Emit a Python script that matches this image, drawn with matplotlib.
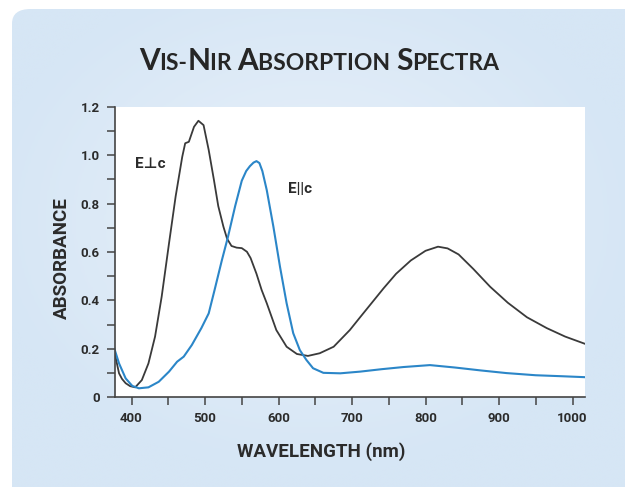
import numpy as np
import matplotlib
matplotlib.use('Agg')
import matplotlib.pyplot as plt
from matplotlib.patches import FancyBboxPatch
from matplotlib.colors import LinearSegmentedColormap

# E perpendicular c (black trace)
perp_nm = [376, 380, 383, 387, 392, 398, 405, 414, 423, 432, 441, 451, 460, 469, 473,
           478, 485, 491, 498, 505, 512, 518, 525, 530, 536, 543, 550, 557, 562, 570,
           577, 584, 597, 611, 625, 640, 656, 675, 697, 711, 727, 743, 760, 780, 800,
           817, 830, 845, 865, 888, 912, 938, 965, 990, 1017]
perp_abs = [0.20, 0.14, 0.098, 0.075, 0.057, 0.045, 0.040, 0.070, 0.139, 0.25, 0.415,
            0.636, 0.83, 0.994, 1.05, 1.056, 1.118, 1.143, 1.125, 1.022, 0.90, 0.79, 0.705,
            0.655, 0.625, 0.618, 0.616, 0.601, 0.575, 0.51, 0.443, 0.388, 0.277, 0.208,
            0.178, 0.17, 0.181, 0.208, 0.277, 0.33, 0.39, 0.45, 0.51, 0.565, 0.605, 0.622,
            0.615, 0.59, 0.53, 0.456, 0.39, 0.33, 0.285, 0.25, 0.22]

# E parallel c (blue trace)
par_nm = [376, 383, 392, 401, 410, 423, 437, 451, 462, 471, 482, 495, 505, 513, 523,
          531, 541, 550, 556, 561, 566, 570, 574, 578, 584, 593, 602, 611, 620, 629,
          638, 647, 661, 684, 711, 740, 770, 806, 840, 875, 910, 950, 985, 1017]
par_abs = [0.206, 0.139, 0.077, 0.046, 0.036, 0.040, 0.063, 0.105, 0.146, 0.167, 0.215,
           0.285, 0.346, 0.443, 0.567, 0.66, 0.79, 0.895, 0.935, 0.955, 0.97, 0.976, 0.968,
           0.935, 0.856, 0.705, 0.539, 0.388, 0.264, 0.194, 0.153, 0.119, 0.10, 0.098,
           0.105, 0.115, 0.124, 0.132, 0.122, 0.11, 0.099, 0.09, 0.086, 0.082]

x_ticks = [400, 500, 600, 700, 800, 900, 1000]
y_ticks = [0, 0.2, 0.4, 0.6, 0.8, 1.0, 1.2]
y_tick_labels = ['0', '0.2', '0.4', '0.6', '0.8', '1.0', '1.2']

text_color = '#2b2b2b'
cond = ['Roboto', 'DejaVu Sans']

fig = plt.figure(figsize=(6.25, 4.87), dpi=100)
fig.patch.set_facecolor('white')

# light blue panel, lighter in the middle, rounded top-left corner
bg = fig.add_axes([0, 0, 1, 1])
bg.set_axis_off()
bg.set_xlim(0, 1)
bg.set_ylim(0, 1)
gx, gy = np.meshgrid(np.linspace(0, 1, 200), np.linspace(0, 1, 200))
dist = np.sqrt(((gx - 0.5) / 0.7) ** 2 + ((gy - 0.55) / 0.7) ** 2)
cmap = LinearSegmentedColormap.from_list('panel', ['#e9f1fa', '#d6e6f5'])
img = bg.imshow(dist, cmap=cmap, extent=[0, 1, 0, 1], origin='lower',
                aspect='auto', vmin=0, vmax=0.75)
panel = FancyBboxPatch((12 / 625, -0.05), 1.1, 1.05 - 9 / 487,
                       boxstyle='round,pad=0,rounding_size=0.03',
                       transform=bg.transAxes, facecolor='none', edgecolor='none')
bg.add_patch(panel)
img.set_clip_path(panel)

ax = fig.add_axes([115 / 625, 1 - 397 / 487, 470 / 625, 290 / 487])
ax.set_facecolor('white')

ax.plot(perp_nm, perp_abs, color='#3a3a3a', lw=1.3)
ax.plot(par_nm, par_abs, color='#2b86c8', lw=1.5)

ax.set_xlim(377.5, 1017)
ax.set_ylim(0, 1.2)
for s in ['top', 'right']:
    ax.spines[s].set_visible(False)
for s in ['left', 'bottom']:
    ax.spines[s].set_color('#444444')
    ax.spines[s].set_linewidth(1.2)

ax.set_xticks(x_ticks)
ax.set_xticks([450, 550, 650, 750, 850, 950], minor=True)
ax.set_yticks(y_ticks)
ax.set_yticklabels(y_tick_labels)
ax.set_yticks([0.1, 0.3, 0.5, 0.7, 0.9, 1.1], minor=True)
ax.tick_params(which='both', direction='out', color='#444444', width=1.1,
               length=6, labelsize=9.5, labelcolor=text_color, pad=5)
for lab in ax.get_xticklabels() + ax.get_yticklabels():
    lab.set_family(cond)
    lab.set_weight('bold')

ax.text(425, 0.965, 'E⊥c', fontsize=11, fontweight='bold', family=cond,
        color=text_color, ha='center', va='center')
ax.text(629, 0.86, 'E||c', fontsize=11, fontweight='bold', family=cond,
        color=text_color, ha='center', va='center')

fig.text(62 / 625, 1 - 258 / 487, 'ABSORBANCE', rotation=90, fontsize=13.5,
         fontweight='bold', family=cond, color=text_color, ha='center', va='center')
fig.text(321 / 625, 1 - 452 / 487, 'WAVELENGTH (nm)', fontsize=13.5,
         fontweight='bold', family=cond, color=text_color, ha='center', va='center')

# small caps title, built piece by piece
parts = [('V', 21.5), ('IS-', 16.5), ('N', 21.5), ('IR ', 16.5), ('A', 21.5),
         ('BSORPTION ', 16.5), ('S', 21.5), ('PECTRA', 16.5)]
renderer = fig.canvas.get_renderer()
texts = []
x = 0.0
for s, size in parts:
    t = fig.text(x, 1 - 70 / 487, s, fontsize=size, family=['Lato', 'DejaVu Sans'],
                 fontweight='bold', color='#262626', ha='left', va='baseline')
    w = t.get_window_extent(renderer).width / fig.bbox.width
    texts.append((t, w))
    x += w
x0 = 319 / 625 - x / 2
for t, w in texts:
    t.set_x(t.get_position()[0] + x0)

fig.savefig('out.png', dpi=100, facecolor=fig.get_facecolor())
